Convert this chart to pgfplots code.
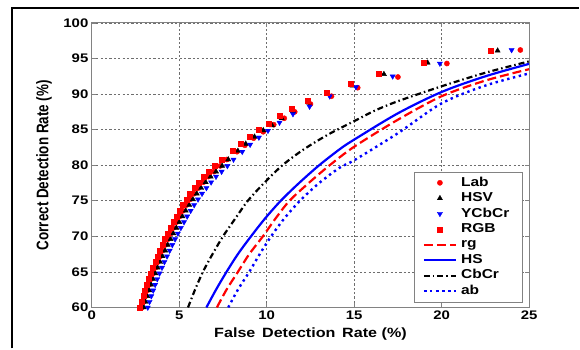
\documentclass[border=0pt]{standalone}
\usepackage{pgfplots}
\pgfplotsset{compat=1.18}
\usepackage{fontspec}
\setmainfont{Liberation Sans}[FakeStretch=1.2]
\definecolor{axgray}{RGB}{130,130,130}
\definecolor{gridgray}{RGB}{110,110,110}
\begin{document}
\begin{tikzpicture}
\path (0bp,0bp) rectangle (580bp,-349bp);
\draw[line width=2bp] (12.2bp,-349bp) -- (12.2bp,-7.8bp) -- (580bp,-7.8bp);
\begin{axis}[
  at={(92bp,-308bp)}, anchor=south west,
  width=438bp, height=285bp, scale only axis,
  xmin=0, xmax=25, ymin=60, ymax=100,
  xtick={0,5,10,15,20,25}, ytick={60,65,70,75,80,85,90,95,100},
  /pgf/number format/assume math mode=true,
  axis line style={axgray, line width=1bp},
  tick style={axgray, line width=0.8bp},
  tick align=inside, major tick length=4bp,
  grid=major,
  major grid style={gridgray, line width=0.7bp, dash pattern=on 2.2bp off 2.2bp},
  tick label style={font=\fontsize{12.5}{14}\selectfont\bfseries},
  every axis x label/.style={at={(axis description cs:0.5,0)}, yshift=-27bp, anchor=center},
  every axis y label/.style={at={(axis description cs:0,0.5)}, xshift=-48bp, rotate=90, anchor=center},
  label style={font=\fontsize{13.5}{16}\selectfont\bfseries},
  xlabel={False\, Detection\, Rate (\%)},
  ylabel={\scalebox{0.833}[1]{\scalebox{1}[1.25]{Correct Detection Rate (\%)}}},
  legend style={at={(0.985,0.019)}, anchor=south east, draw=axgray, fill=white,
    font=\fontsize{13}{15}\selectfont\bfseries, inner xsep=9bp, inner ysep=3bp,
    nodes={text height=9.5bp, text depth=3bp, inner ysep=1.5bp, inner xsep=4bp}},
  legend cell align=left,
  legend image code/.code={\draw[mark repeat=2,mark phase=2,#1] plot coordinates {(0bp,0bp) (16bp,0bp) (32bp,0bp)};},
]
\addplot[only marks, mark=*, color=red, mark size=2.6bp] coordinates {
(2.87,60.0)(2.97,60.8)(3.07,61.6)(3.17,62.4)(3.28,63.2)(3.39,64.0)(3.51,64.8)(3.64,65.6)(3.77,66.4)(3.91,67.2)(4.05,68.0)(4.2,68.8)(4.35,69.6)(4.51,70.4)(4.67,71.2)(4.84,72.0)(5.02,72.8)(5.21,73.6)(5.41,74.4)(5.62,75.2)(5.85,76.0)(6.1,76.8)(6.37,77.6)(6.66,78.4)(6.98,79.1)(7.34,79.9)(7.72,80.8)(8.3,81.9)(8.75,82.8)(9.25,83.8)(9.8,84.7)(10.4,85.7)(11.0,86.6)(11.6,87.5)(12.5,88.6)(13.7,89.7)(15.2,90.9)(17.5,92.4)(20.3,94.3)(24.5,96.2)};
\addlegendentry{Lab}
\addplot[only marks, mark=triangle*, color=black, mark size=3bp] coordinates {
(2.97,60.0)(3.07,60.8)(3.17,61.6)(3.28,62.4)(3.39,63.2)(3.5,64.0)(3.63,64.8)(3.76,65.6)(3.9,66.4)(4.04,67.2)(4.19,68.0)(4.34,68.8)(4.5,69.6)(4.66,70.4)(4.83,71.2)(5.0,72.0)(5.18,72.8)(5.37,73.6)(5.57,74.4)(5.78,75.2)(6.0,76.0)(6.25,76.8)(6.51,77.6)(6.79,78.4)(7.1,79.1)(7.45,79.9)(7.8,80.8)(8.35,82.0)(8.8,83.0)(9.3,84.0)(9.8,84.9)(10.3,85.6)(10.85,86.6)(11.5,87.6)(12.4,88.8)(13.5,90.0)(14.9,91.2)(16.7,92.8)(19.2,94.4)(23.2,96.1)};
\addlegendentry{HSV}
\addplot[only marks, mark=triangle*, mark options={rotate=180}, color=blue, mark size=3bp] coordinates {
(3.2,60.0)(3.3,60.8)(3.4,61.6)(3.51,62.4)(3.62,63.2)(3.74,64.0)(3.87,64.8)(4.01,65.6)(4.15,66.4)(4.3,67.2)(4.45,68.0)(4.6,68.8)(4.76,69.6)(4.92,70.4)(5.09,71.2)(5.27,72.0)(5.45,72.8)(5.65,73.6)(5.85,74.4)(6.07,75.2)(6.3,76.0)(6.55,76.8)(6.82,77.6)(7.1,78.4)(7.42,79.1)(7.75,79.9)(8.1,80.8)(8.6,81.9)(9.05,82.9)(9.55,83.9)(10.07,84.85)(10.73,86.0)(11.5,87.2)(12.45,88.25)(13.6,89.7)(15.1,91.0)(17.2,92.5)(19.9,94.3)(24.0,96.2)};
\addlegendentry{YCbCr}
\addplot[only marks, mark=square*, color=red, mark size=2.5bp] coordinates {
(2.75,60.0)(2.85,60.8)(2.95,61.6)(3.05,62.4)(3.15,63.2)(3.26,64.0)(3.38,64.8)(3.5,65.6)(3.63,66.4)(3.76,67.2)(3.9,68.0)(4.04,68.8)(4.19,69.6)(4.34,70.4)(4.5,71.2)(4.66,72.0)(4.83,72.8)(5.01,73.6)(5.2,74.4)(5.4,75.2)(5.62,76.0)(5.86,76.8)(6.12,77.6)(6.4,78.4)(6.7,79.1)(7.05,79.9)(7.45,80.8)(8.05,82.0)(8.5,83.0)(9.0,84.0)(9.55,85.0)(10.12,85.9)(10.73,87.0)(11.45,87.9)(12.35,89.1)(13.4,90.2)(14.8,91.4)(16.4,92.8)(19.0,94.4)(22.8,96.1)};
\addlegendentry{RGB}
\addplot[red, line width=2.2bp, dash pattern=on 9bp off 4bp, smooth] coordinates {
(7.15,60)(7.7,62.5)(8.35,65)(9.0,67.5)(9.78,70)(10.5,72.5)(11.3,75)(12.4,77.5)(13.6,80)(15,82.6)(17.5,86.4)(20,89.7)(22.5,91.9)(25,93.5)};
\addlegendentry{rg}
\addplot[blue, line width=2.2bp, smooth] coordinates {
(6.55,60)(7.1,62.5)(7.7,65)(8.35,67.5)(9.1,70)(9.9,72.5)(10.8,75)(11.85,77.5)(13.0,80)(14.2,82.3)(15,83.6)(17.5,87.3)(20,90.3)(22.5,92.5)(25,94.25)};
\addlegendentry{HS}
\addplot[black, line width=2.2bp, dash pattern=on 6bp off 3bp on 1.5bp off 3bp, smooth] coordinates {
(5.5,60)(5.9,62.5)(6.35,65)(6.9,67.5)(7.5,70)(8.2,72.5)(8.92,75)(9.85,77.5)(10.9,80)(12.1,82.2)(13.5,84.3)(15,86.2)(16.2,87.7)(17.5,89.0)(20,91.1)(22.5,93.0)(25,94.6)};
\addlegendentry{CbCr}
\addplot[blue, line width=2.4bp, dash pattern=on 2.4bp off 3.6bp, smooth] coordinates {
(7.8,60)(8.35,62.5)(9.0,65)(9.6,67.5)(10.25,70)(11.0,72.5)(11.9,75)(13.0,77.5)(14.2,79.7)(15,80.7)(17.5,84.5)(20,88.7)(22.5,91.2)(25,92.9)};
\addlegendentry{ab}
\end{axis}
\end{tikzpicture}
\end{document}
